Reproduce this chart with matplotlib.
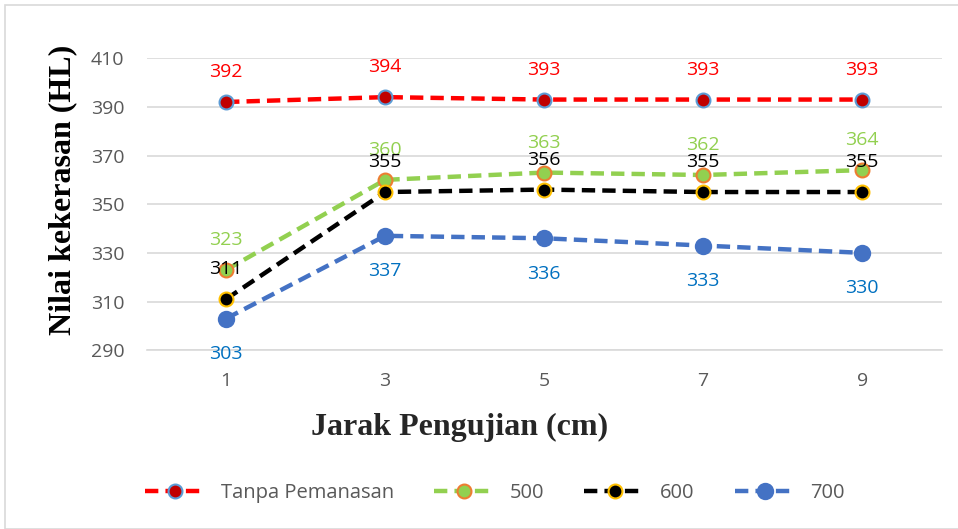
import matplotlib
matplotlib.use('Agg')
import matplotlib.pyplot as plt
from matplotlib.patches import Rectangle

jarak = ['1', '3', '5', '7', '9']
tanpa = [392, 394, 393, 393, 393]
t500 = [323, 360, 363, 362, 364]
t600 = [311, 355, 356, 355, 355]
t700 = [303, 337, 336, 333, 330]
y_ticks = [290, 310, 330, 350, 370, 390, 410]

fig = plt.figure(figsize=(9.58, 5.29), dpi=100)
ax = fig.add_axes([0.153, 0.338, 0.830, 0.552])

# outer chart border
fig.patches.append(Rectangle((5 / 958, 0.0), 1.0, 1 - 5 / 529, transform=fig.transFigure,
                             fill=False, edgecolor='#d9d9d9', linewidth=1.2))

x = list(range(len(jarak)))
series = [
    (tanpa, 'Tanpa Pemanasan', '#ff0000', '#c00000', '#5b9bd5', '#ff0000', 10, 'above'),
    (t500, '500', '#92d050', '#92d050', '#ed7d31', '#92d050', 10, 'above'),
    (t600, '600', '#000000', '#000000', '#ffc000', '#000000', 10, 'above'),
    (t700, '700', '#4472c4', '#4472c4', '#4472c4', '#0070c0', 11, 'below'),
]

for vals, name, lc, fc, ec, tc, ms, pos in series:
    ax.plot(x, vals, linestyle=(0, (3, 1.6)), color=lc, linewidth=3.2,
            marker='o', markersize=ms, markerfacecolor=fc, markeredgecolor=ec,
            markeredgewidth=1.5, label=name, zorder=3)
    for xi, v in zip(x, vals):
        off = 15 if pos == 'above' else -32
        ax.annotate(str(v), (xi, v), xytext=(0, off), textcoords='offset points',
                    ha='center', va='bottom', color=tc, fontsize=14,
                    fontfamily='Open Sans', zorder=4)

ax.set_xlim(-0.5, 4.5)
ax.set_ylim(290, 410)
ax.set_yticks(y_ticks)
ax.set_xticks(x)
ax.set_xticklabels(jarak)
ax.grid(axis='y', color='#d9d9d9', linewidth=1.2)
ax.set_axisbelow(True)
for s in ['top', 'right', 'left']:
    ax.spines[s].set_visible(False)
ax.spines['bottom'].set_color('#d9d9d9')
ax.spines['bottom'].set_linewidth(1.2)
ax.tick_params(axis='y', length=0, labelsize=14, labelcolor='#595959', pad=16)
ax.tick_params(axis='x', length=0, labelsize=14, labelcolor='#595959', pad=16)
for lab in ax.get_xticklabels() + ax.get_yticklabels():
    lab.set_fontfamily('Open Sans')

# axis titles sit where the reference puts them (not centred on the axes)
fig.text(63 / 958, 1 - 190 / 529, 'Nilai kekerasan (HL)', rotation=90,
         ha='center', va='center', fontsize=23, fontweight='bold',
         fontfamily='Liberation Serif', color='#000000')
fig.text(460 / 958, 1 - 427 / 529, 'Jarak Pengujian (cm)',
         ha='center', va='center', fontsize=23, fontweight='bold',
         fontfamily='Liberation Serif', color='#262626')

leg = ax.legend(loc='center', ncol=4, frameon=False, handlelength=3,
                handletextpad=0.75, columnspacing=2.0,
                prop={'family': 'Open Sans', 'size': 14.5})
leg.set_bbox_to_anchor((495 / 958, 1 - 493 / 529), transform=fig.transFigure)
for t in leg.get_texts():
    t.set_color('#595959')

fig.savefig('out.png', dpi=100)
